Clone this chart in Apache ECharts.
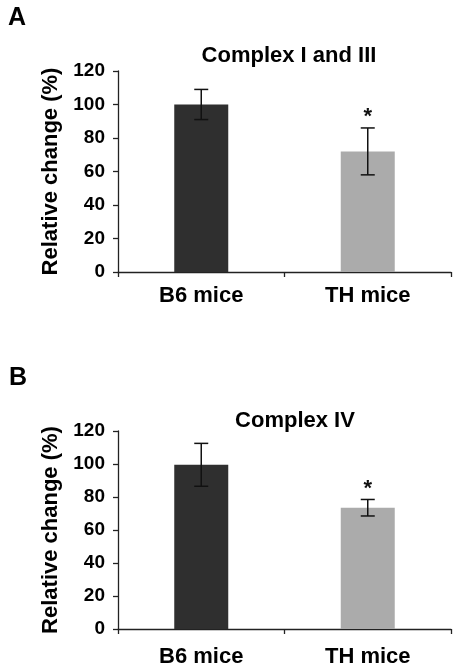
<!DOCTYPE html>
<html>
<head>
<meta charset="utf-8">
<script src="https://cdn.jsdelivr.net/npm/echarts@6/dist/echarts.min.js"></script>
<style>
  html, body { margin: 0; padding: 0; background: #ffffff; }
  #chart { width: 457px; height: 670px; }
</style>
</head>
<body>
<div id="chart"></div>
<script>
// ---- data ----
const categories = ['B6 mice', 'TH mice'];
const panelLetters = ['A', 'B'];
const panelTitles = ['Complex I and III', 'Complex IV'];
const meansA = [100, 72];
const errorsA = [9, 14];
const signifA = ['', '*'];
const meansB = [99.5, 73.5];
const errorsB = [13, 5];
const signifB = ['', '*'];
const yAxisName = 'Relative change (%)';
const yMin = 0, yMax = 120, yInterval = 20;
const barColors = ['#2f2f2f', '#ababab'];

const FONT = '"Liberation Sans", Arial, sans-serif';

function errData(means, errs, sig) {
  return means.map((m, i) => [i, m - errs[i], m + errs[i], sig[i]]);
}

function renderErr(params, api) {
  const x = api.value(0);
  const lo = api.coord([x, api.value(1)]);
  const hi = api.coord([x, api.value(2)]);
  const half = 7;
  const style = { stroke: '#111', lineWidth: 1.5 };
  const children = [
    { type: 'line', shape: { x1: hi[0], y1: hi[1], x2: lo[0], y2: lo[1] }, style },
    { type: 'line', shape: { x1: hi[0] - half, y1: hi[1], x2: hi[0] + half, y2: hi[1] }, style },
    { type: 'line', shape: { x1: lo[0] - half, y1: lo[1], x2: lo[0] + half, y2: lo[1] }, style }
  ];
  const s = api.value(3);
  if (s) {
    children.push({
      type: 'text',
      style: { text: s, x: hi[0], y: hi[1] - 11, align: 'center', verticalAlign: 'middle',
               font: 'bold 22px ' + FONT, fill: '#111' }
    });
  }
  return { type: 'group', children };
}

const grids = [
  { left: 118, right: 6, top: 71, height: 201 },
  { left: 118, right: 6, top: 431, height: 198 }
];

const labelMargins = [13, 17];

const option = {
  animation: false,
  backgroundColor: '#ffffff',
  title: [
    { text: panelLetters[0], left: 3, top: 1, textStyle: { fontFamily: FONT, fontWeight: 'bold', fontSize: 25, color: '#000' } },
    { text: panelLetters[1], left: 4, top: 361, textStyle: { fontFamily: FONT, fontWeight: 'bold', fontSize: 25, color: '#000' } },
    { text: panelTitles[0], left: 284, textAlign: 'center', top: 40, textStyle: { fontFamily: FONT, fontWeight: 'bold', fontSize: 22, color: '#000' } },
    { text: panelTitles[1], left: 290, textAlign: 'center', top: 405, textStyle: { fontFamily: FONT, fontWeight: 'bold', fontSize: 22, color: '#000' } }
  ],
  grid: grids,
  xAxis: [0, 1].map(i => ({
    type: 'category',
    gridIndex: i,
    data: categories,
    boundaryGap: true,
    axisLine: { lineStyle: { color: '#222', width: 1.3 } },
    axisTick: { show: true, length: 5, alignWithLabel: false, lineStyle: { color: '#222', width: 1.3 } },
    axisLabel: { margin: labelMargins[i], fontFamily: FONT, fontWeight: 'bold', fontSize: 22, color: '#000' }
  })),
  yAxis: [0, 1].map(i => ({
    type: 'value',
    gridIndex: i,
    min: yMin, max: yMax, interval: yInterval,
    name: yAxisName,
    nameLocation: 'middle',
    nameRotate: 90,
    nameGap: 56,
    nameTextStyle: { fontFamily: FONT, fontWeight: 'bold', fontSize: 22, color: '#000' },
    splitLine: { show: false },
    axisLine: { show: true, lineStyle: { color: '#222', width: 1.3 } },
    axisTick: { show: true, length: 5, lineStyle: { color: '#222', width: 1.3 } },
    axisLabel: { margin: 13, fontFamily: FONT, fontWeight: 'bold', fontSize: 19, color: '#000' }
  })),
  series: [
    {
      type: 'bar', xAxisIndex: 0, yAxisIndex: 0, barWidth: 54,
      data: meansA.map((v, i) => ({ value: v, itemStyle: { color: barColors[i] } }))
    },
    {
      type: 'custom', xAxisIndex: 0, yAxisIndex: 0, renderItem: renderErr,
      data: errData(meansA, errorsA, signifA), z: 10
    },
    {
      type: 'bar', xAxisIndex: 1, yAxisIndex: 1, barWidth: 54,
      data: meansB.map((v, i) => ({ value: v, itemStyle: { color: barColors[i] } }))
    },
    {
      type: 'custom', xAxisIndex: 1, yAxisIndex: 1, renderItem: renderErr,
      data: errData(meansB, errorsB, signifB), z: 10
    }
  ]
};

const chart = echarts.init(document.getElementById('chart'), null, { renderer: 'canvas' });
chart.setOption(option);
</script>
</body>
</html>
